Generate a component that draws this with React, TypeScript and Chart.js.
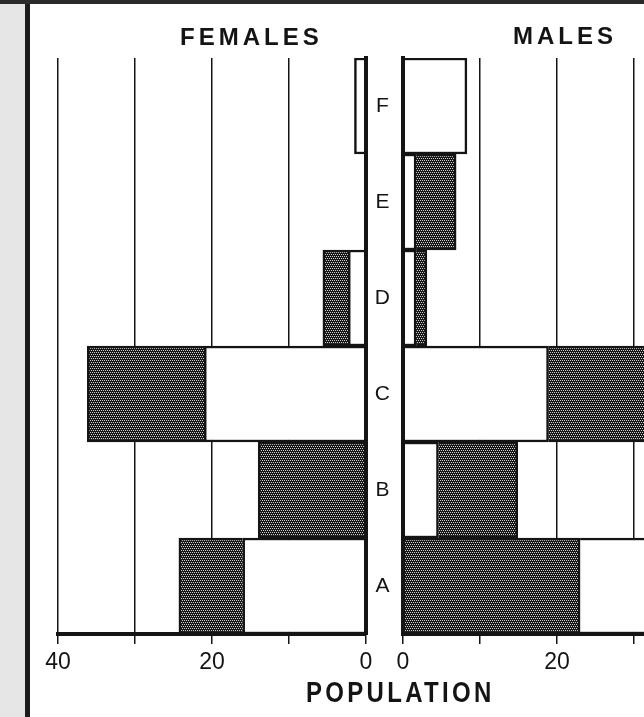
import React, { useEffect, useRef } from 'react';
import { Chart, registerables } from 'chart.js';

Chart.register(...registerables);

// Age classes from bottom (A) to top (F)
const categories = ['A', 'B', 'C', 'D', 'E', 'F'];

// Females: white part next to the axis, then hatched part, then outer white part
const femaleInnerWhite = [16, 0, 21, 2.3, 0, 1.5];
const femaleHatched = [8.3, 14, 15.2, 3.3, 0, 0];
const femaleOuterWhite = [0, 0, 0, 0, 0, 0];

// Males
const maleInnerWhite = [0, 4.6, 18.9, 1.7, 1.7, 8.3];
const maleHatched = [23, 10.3, 16, 1.4, 5.2, 0];
const maleOuterWhite = [10, 0, 0, 0, 0, 0];

const axisMin = 0;
const axisMax = 40;
const tickStep = 10;
const labelStep = 20;

const FONT = "'Liberation Sans', Arial, Helvetica, sans-serif";
const INK = '#141414';

function makeHatch(): CanvasPattern | string {
  const c = document.createElement('canvas');
  c.width = 4;
  c.height = 4;
  const g = c.getContext('2d');
  if (!g) return '#444';
  g.fillStyle = '#161616';
  g.fillRect(0, 0, 4, 4);
  g.fillStyle = '#d0d0d0';
  [[0, 0], [2, 0], [1, 2], [3, 2]].forEach(([x, y]) => g.fillRect(x, y, 1, 1));
  return g.createPattern(c, 'repeat') ?? '#444';
}

const toData = (arr: number[]) => arr.map((v) => (v === 0 ? null : v));

function buildDatasets(inner: number[], hatched: number[], outer: number[], pattern: any) {
  const common = {
    borderColor: INK,
    borderWidth: 2.5,
    barPercentage: 1,
    categoryPercentage: 1,
    stack: 'pop',
  };
  return [
    { label: 'white', data: toData(inner), backgroundColor: '#ffffff', ...common },
    { label: 'hatched', data: toData(hatched), backgroundColor: pattern, ...common },
    { label: 'white outer', data: toData(outer), backgroundColor: '#ffffff', ...common },
  ];
}

function buildOptions(side: 'left' | 'right'): any {
  const isLeft = side === 'left';
  return {
    indexAxis: 'y',
    responsive: true,
    maintainAspectRatio: false,
    animation: false,
    events: [],
    layout: {
      padding: isLeft
        ? { left: 58, right: 14, top: 58, bottom: 43 }
        : { left: 0, right: 20, top: 58, bottom: 43 },
    },
    plugins: {
      legend: { display: false },
      tooltip: { enabled: false },
      title: { display: false },
    },
    scales: {
      x: {
        type: 'linear',
        min: axisMin,
        max: axisMax,
        reverse: isLeft,
        stacked: true,
        grid: {
          color: INK,
          lineWidth: 1.5,
          drawTicks: true,
          tickLength: 10,
          tickColor: INK,
          tickWidth: 1.5,
        },
        border: { display: true, color: INK, width: 4, z: 1 },
        ticks: {
          stepSize: tickStep,
          padding: 5,
          color: INK,
          autoSkip: false,
          maxRotation: 0,
          font: { family: FONT, size: 23 },
          callback: (v: any) => (Number(v) % labelStep === 0 ? String(v) : ''),
        },
        afterFit: (s: any) => {
          s.height = 40;
        },
      },
      y: {
        type: 'category',
        reverse: true,
        stacked: true,
        position: isLeft ? 'right' : 'left',
        grid: { display: false, drawTicks: false },
        border: { display: true, color: INK, width: 4, z: 1 },
        ticks: {
          display: !isLeft,
          crossAlign: 'center',
          padding: 13,
          color: INK,
          font: { family: FONT, size: 21 },
        },
        afterFit: (s: any) => {
          s.width = isLeft ? 0 : 37;
        },
      },
    },
  };
}

export default function App() {
  const leftRef = useRef<HTMLCanvasElement | null>(null);
  const rightRef = useRef<HTMLCanvasElement | null>(null);

  useEffect(() => {
    const pattern = makeHatch();
    const charts: Chart[] = [];
    if (leftRef.current) {
      charts.push(
        new Chart(leftRef.current, {
          type: 'bar',
          data: {
            labels: categories,
            datasets: buildDatasets(femaleInnerWhite, femaleHatched, femaleOuterWhite, pattern) as any,
          },
          options: buildOptions('left'),
        })
      );
    }
    if (rightRef.current) {
      charts.push(
        new Chart(rightRef.current, {
          type: 'bar',
          data: {
            labels: categories,
            datasets: buildDatasets(maleInnerWhite, maleHatched, maleOuterWhite, pattern) as any,
          },
          options: buildOptions('right'),
        })
      );
    }
    return () => charts.forEach((c) => c.destroy());
  }, []);

  const titleStyle: React.CSSProperties = {
    position: 'absolute',
    fontFamily: FONT,
    fontWeight: 'bold',
    fontSize: 24,
    lineHeight: '24px',
    letterSpacing: '4px',
    color: INK,
    whiteSpace: 'nowrap',
  };

  return (
    <div
      style={{
        position: 'fixed',
        left: 0,
        top: 0,
        width: 644,
        height: 717,
        overflow: 'hidden',
        background: '#ffffff',
      }}
    >
      {/* scanned page edge */}
      <div style={{ position: 'absolute', left: 0, top: 0, width: 26, height: 717, background: '#e6e6e6' }} />
      <div style={{ position: 'absolute', left: 25, top: 0, width: 5, height: 717, background: '#1c1c1c' }} />
      <div style={{ position: 'absolute', left: 0, top: 0, width: 644, height: 4, background: '#2a2a2a' }} />

      <div style={{ position: 'absolute', left: 0, top: 0, width: 380, height: 717 }}>
        <canvas ref={leftRef} />
      </div>
      <div style={{ position: 'absolute', left: 366, top: 0, width: 365, height: 717 }}>
        <canvas ref={rightRef} />
      </div>

      <div style={{ ...titleStyle, left: 180, top: 25 }}>FEMALES</div>
      <div style={{ ...titleStyle, left: 513, top: 24 }}>MALES</div>
      <div
        style={{
          ...titleStyle,
          left: 306,
          top: 678,
          letterSpacing: '3.3px',
          transform: 'scaleY(1.2)',
          transformOrigin: 'top left',
        }}
      >
        POPULATION
      </div>
    </div>
  );
}
